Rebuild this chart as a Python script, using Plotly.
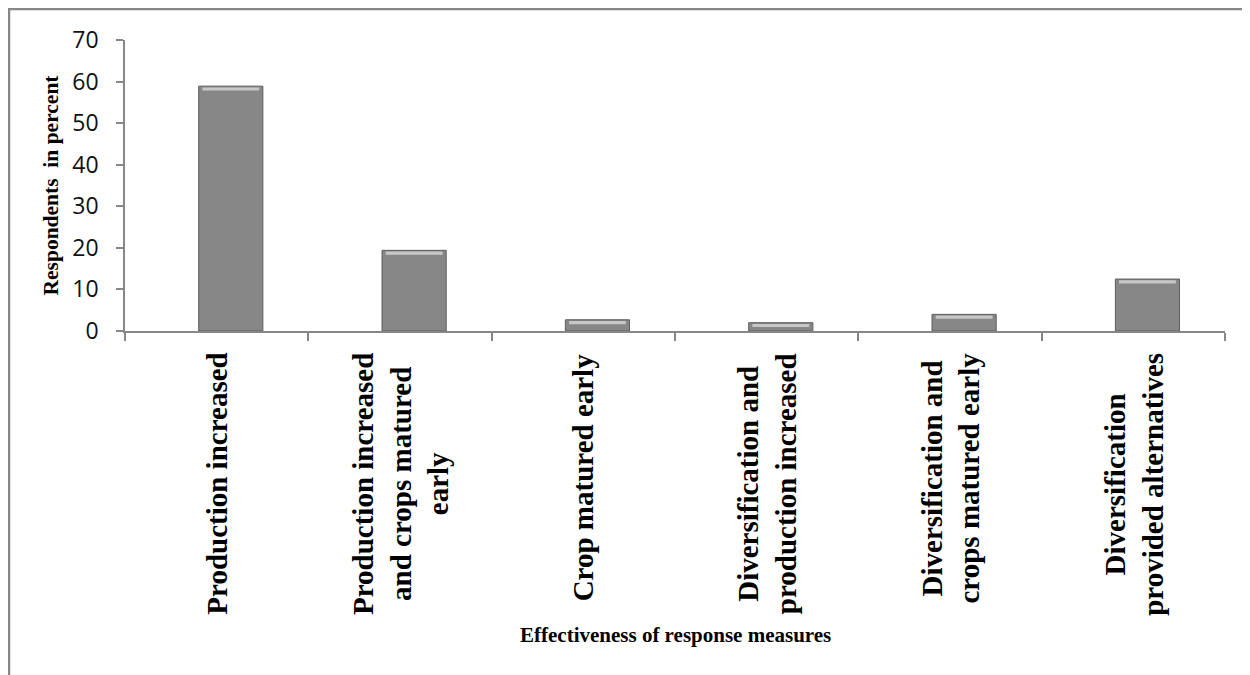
import plotly.graph_objects as go

categories = [
    "Production increased",
    "Production increased<br>and crops matured<br>early",
    "Crop matured early",
    "Diversification and<br>production increased",
    "Diversification and<br>crops matured early",
    "Diversification<br>provided alternatives",
]
values = [58.9, 19.4, 2.7, 2.0, 4.0, 12.5]
y_ticks = [0, 10, 20, 30, 40, 50, 60, 70]

y_title = "Respondents\u00a0 in percent"
x_title = "Effectiveness of response measures"

# the page body adds an 8px margin, so layout values are page positions minus 8
W, H = 1250, 675
ML, MR, MT, MB = 117, 33, 32, 352
PW, PH = W - ML - MR, H - MT - MB

BAR_W = 0.35
BAR_OFF = -0.098
grey_axis = "#878787"
serif = "Liberation Serif, Times New Roman, serif"

x_idx = list(range(len(categories)))

fig = go.Figure()
fig.add_trace(go.Bar(
    x=x_idx, y=values, width=BAR_W, offset=BAR_OFF,
    marker=dict(color="#878787", line=dict(color="#5e5e5e", width=1)),
    showlegend=False, hoverinfo="y",
))
# bevel highlight near the top of each bar
hl = 0.75
fig.add_trace(go.Bar(
    x=x_idx, y=[min(hl, v * 0.45) for v in values],
    base=[v - min(hl, v * 0.45) - min(0.3, v * 0.15) for v in values],
    width=BAR_W - 0.04, offset=BAR_OFF + 0.02,
    marker=dict(color="rgba(210,210,210,0.85)", line=dict(width=0)),
    showlegend=False, hoverinfo="skip",
))

fig.update_layout(
    width=W, height=H,
    margin=dict(l=ML, r=MR, t=MT, b=MB, autoexpand=False),
    paper_bgcolor="white", plot_bgcolor="white",
    barmode="overlay",
    xaxis=dict(
        range=[-0.5, len(categories) - 0.5],
        tickmode="array", tickvals=[i - 0.5 for i in range(len(categories) + 1)],
        showticklabels=False,
        ticks="outside", ticklen=8, tickcolor=grey_axis, tickwidth=1.5,
        showline=True, linecolor=grey_axis, linewidth=1.5,
        showgrid=False, zeroline=False, fixedrange=True,
    ),
    yaxis=dict(
        range=[0, 70], tickmode="array", tickvals=y_ticks,
        ticks="outside", ticklen=7, tickcolor=grey_axis, tickwidth=1.5,
        showline=True, linecolor=grey_axis, linewidth=1.5,
        showgrid=False, zeroline=False,
        tickfont=dict(family="Open Sans", size=23, color="#111111"),
        ticklabelstandoff=13,
        title=dict(text=y_title, standoff=8,
                   font=dict(family=serif, size=21.5, color="black", weight="bold")),
    ),
)

# category labels (rotated, centered multi-line)
for i, c in enumerate(categories):
    fig.add_annotation(
        x=i, y=0, xref="x", yref="y",
        text="<b>%s</b>" % c, textangle=-90, showarrow=False,
        xanchor="center", yanchor="top", align="center", yshift=-20,
        font=dict(family=serif, size=29, color="black"),
    )

fig.add_annotation(
    x=0.5, y=0, xref="paper", yref="paper", text="<b>%s</b>" % x_title,
    showarrow=False, xanchor="center", yanchor="middle", yshift=-(627 - (MT + PH)),
    font=dict(family=serif, size=21, color="black"),
)

# outer chart border (left and top edges visible in the window)
fig.add_shape(
    type="rect", xref="paper", yref="paper",
    x0=(1 - ML) / PW, x1=(W + 10 - ML) / PW,
    y0=-(H + 10 - MT - PH) / PH, y1=(MT - 1) / PH + 1,
    line=dict(color=grey_axis, width=2.5), layer="below",
)

fig.write_html("out.html")
